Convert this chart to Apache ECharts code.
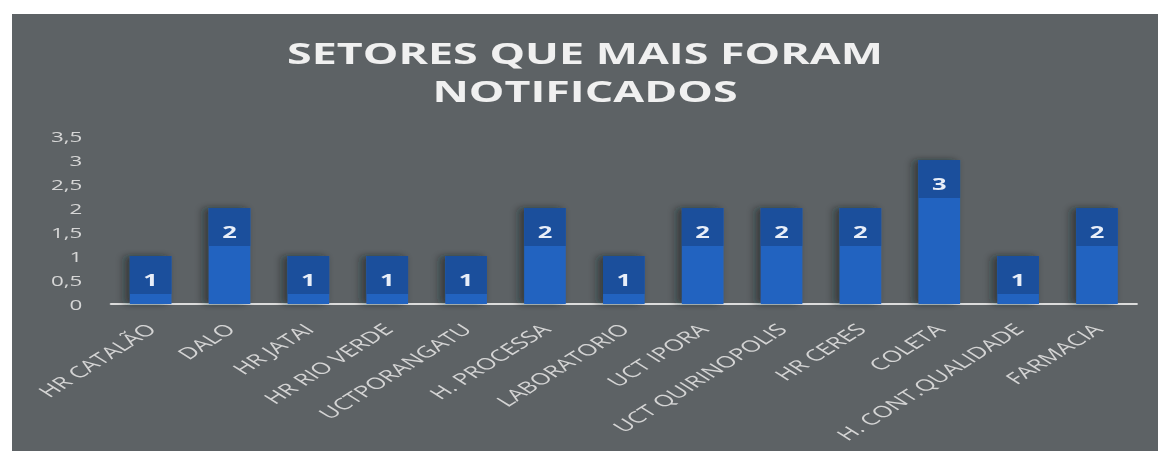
<!DOCTYPE html>
<html>
<head>
<meta charset="utf-8">
<title>Setores que mais foram notificados</title>
<script src="https://cdn.jsdelivr.net/npm/echarts@6/dist/echarts.min.js"></script>
<style>
    html, body { margin: 0; padding: 0; background: #ffffff; width: 1158px; height: 451px; overflow: hidden; }
    /* the source picture is a stretched screenshot: draw at 716px and widen it */
    #chart {
        position: absolute; left: 12px; top: 14px;
        width: 716px; height: 437px;
        transform: scaleX(1.6006); transform-origin: 0 0;
        background: #5d6265;
    }
</style>
</head>
<body>
<div id="chart"></div>
<script>
var titleText = 'SETORES QUE MAIS FORAM\nNOTIFICADOS';

var categories = ['HR CATALÃO', 'DALO', 'HR JATAI', 'HR RIO VERDE', 'UCTPORANGATU', 'H. PROCESSA',
    'LABORATORIO', 'UCT IPORA', 'UCT QUIRINOPOLIS', 'HR CERES', 'COLETA', 'H. CONT.QUALIDADE', 'FARMACIA'];

var values = [1, 2, 1, 1, 1, 2, 1, 2, 2, 2, 3, 1, 2];

var yTickLabels = ['0', '0,5', '1', '1,5', '2', '2,5', '3', '3,5'];

(function() {
    var chart = echarts.init(document.getElementById('chart'), null, { renderer: 'svg' });

    chart.setOption({
        animation: false,
        title: {
            text: titleText,
            left: 'center',
            top: 15,
            textStyle: {
                fontFamily: 'Open Sans',
                fontWeight: 'bold',
                fontSize: 28,
                lineHeight: 38,
                color: '#f0f0f0'
            }
        },
        grid: {
            left: 62,
            right: 13.5,
            top: 122,
            bottom: 147,
            containLabel: false,
            outerBoundsMode: 'none'
        },
        xAxis: {
            type: 'category',
            data: categories,
            axisLine: { lineStyle: { color: '#dcdcdc', width: 2 } },
            axisTick: { show: false },
            axisLabel: {
                rotate: 45,
                margin: 22,
                interval: 0,
                fontFamily: 'Open Sans',
                fontSize: 16,
                color: '#d4d4d4'
            }
        },
        yAxis: {
            type: 'value',
            min: 0,
            max: 3.5,
            interval: 0.5,
            splitLine: { show: false },
            axisLine: { show: false },
            axisTick: { show: false },
            axisLabel: {
                margin: 18,
                fontFamily: 'Open Sans',
                fontSize: 14,
                color: '#d6d6d6',
                formatter: function(v) {
                    return yTickLabels[Math.round(v / 0.5)];
                }
            }
        },
        series: [{
            type: 'bar',
            data: values,
            barWidth: 26,
            itemStyle: {
                color: '#2163c0',
                shadowColor: 'rgba(25, 28, 32, 0.6)',
                shadowBlur: 6,
                shadowOffsetX: -3
            },
            label: {
                show: true,
                position: 'insideTop',
                distance: 0,
                width: 26,
                align: 'center',
                padding: [16, 0, 6, 0],
                lineHeight: 16,
                backgroundColor: '#1b4f9c',
                fontFamily: 'Open Sans',
                fontWeight: 'bold',
                fontSize: 16,
                color: '#e8eef8'
            }
        }]
    });
})();
</script>
</body>
</html>
